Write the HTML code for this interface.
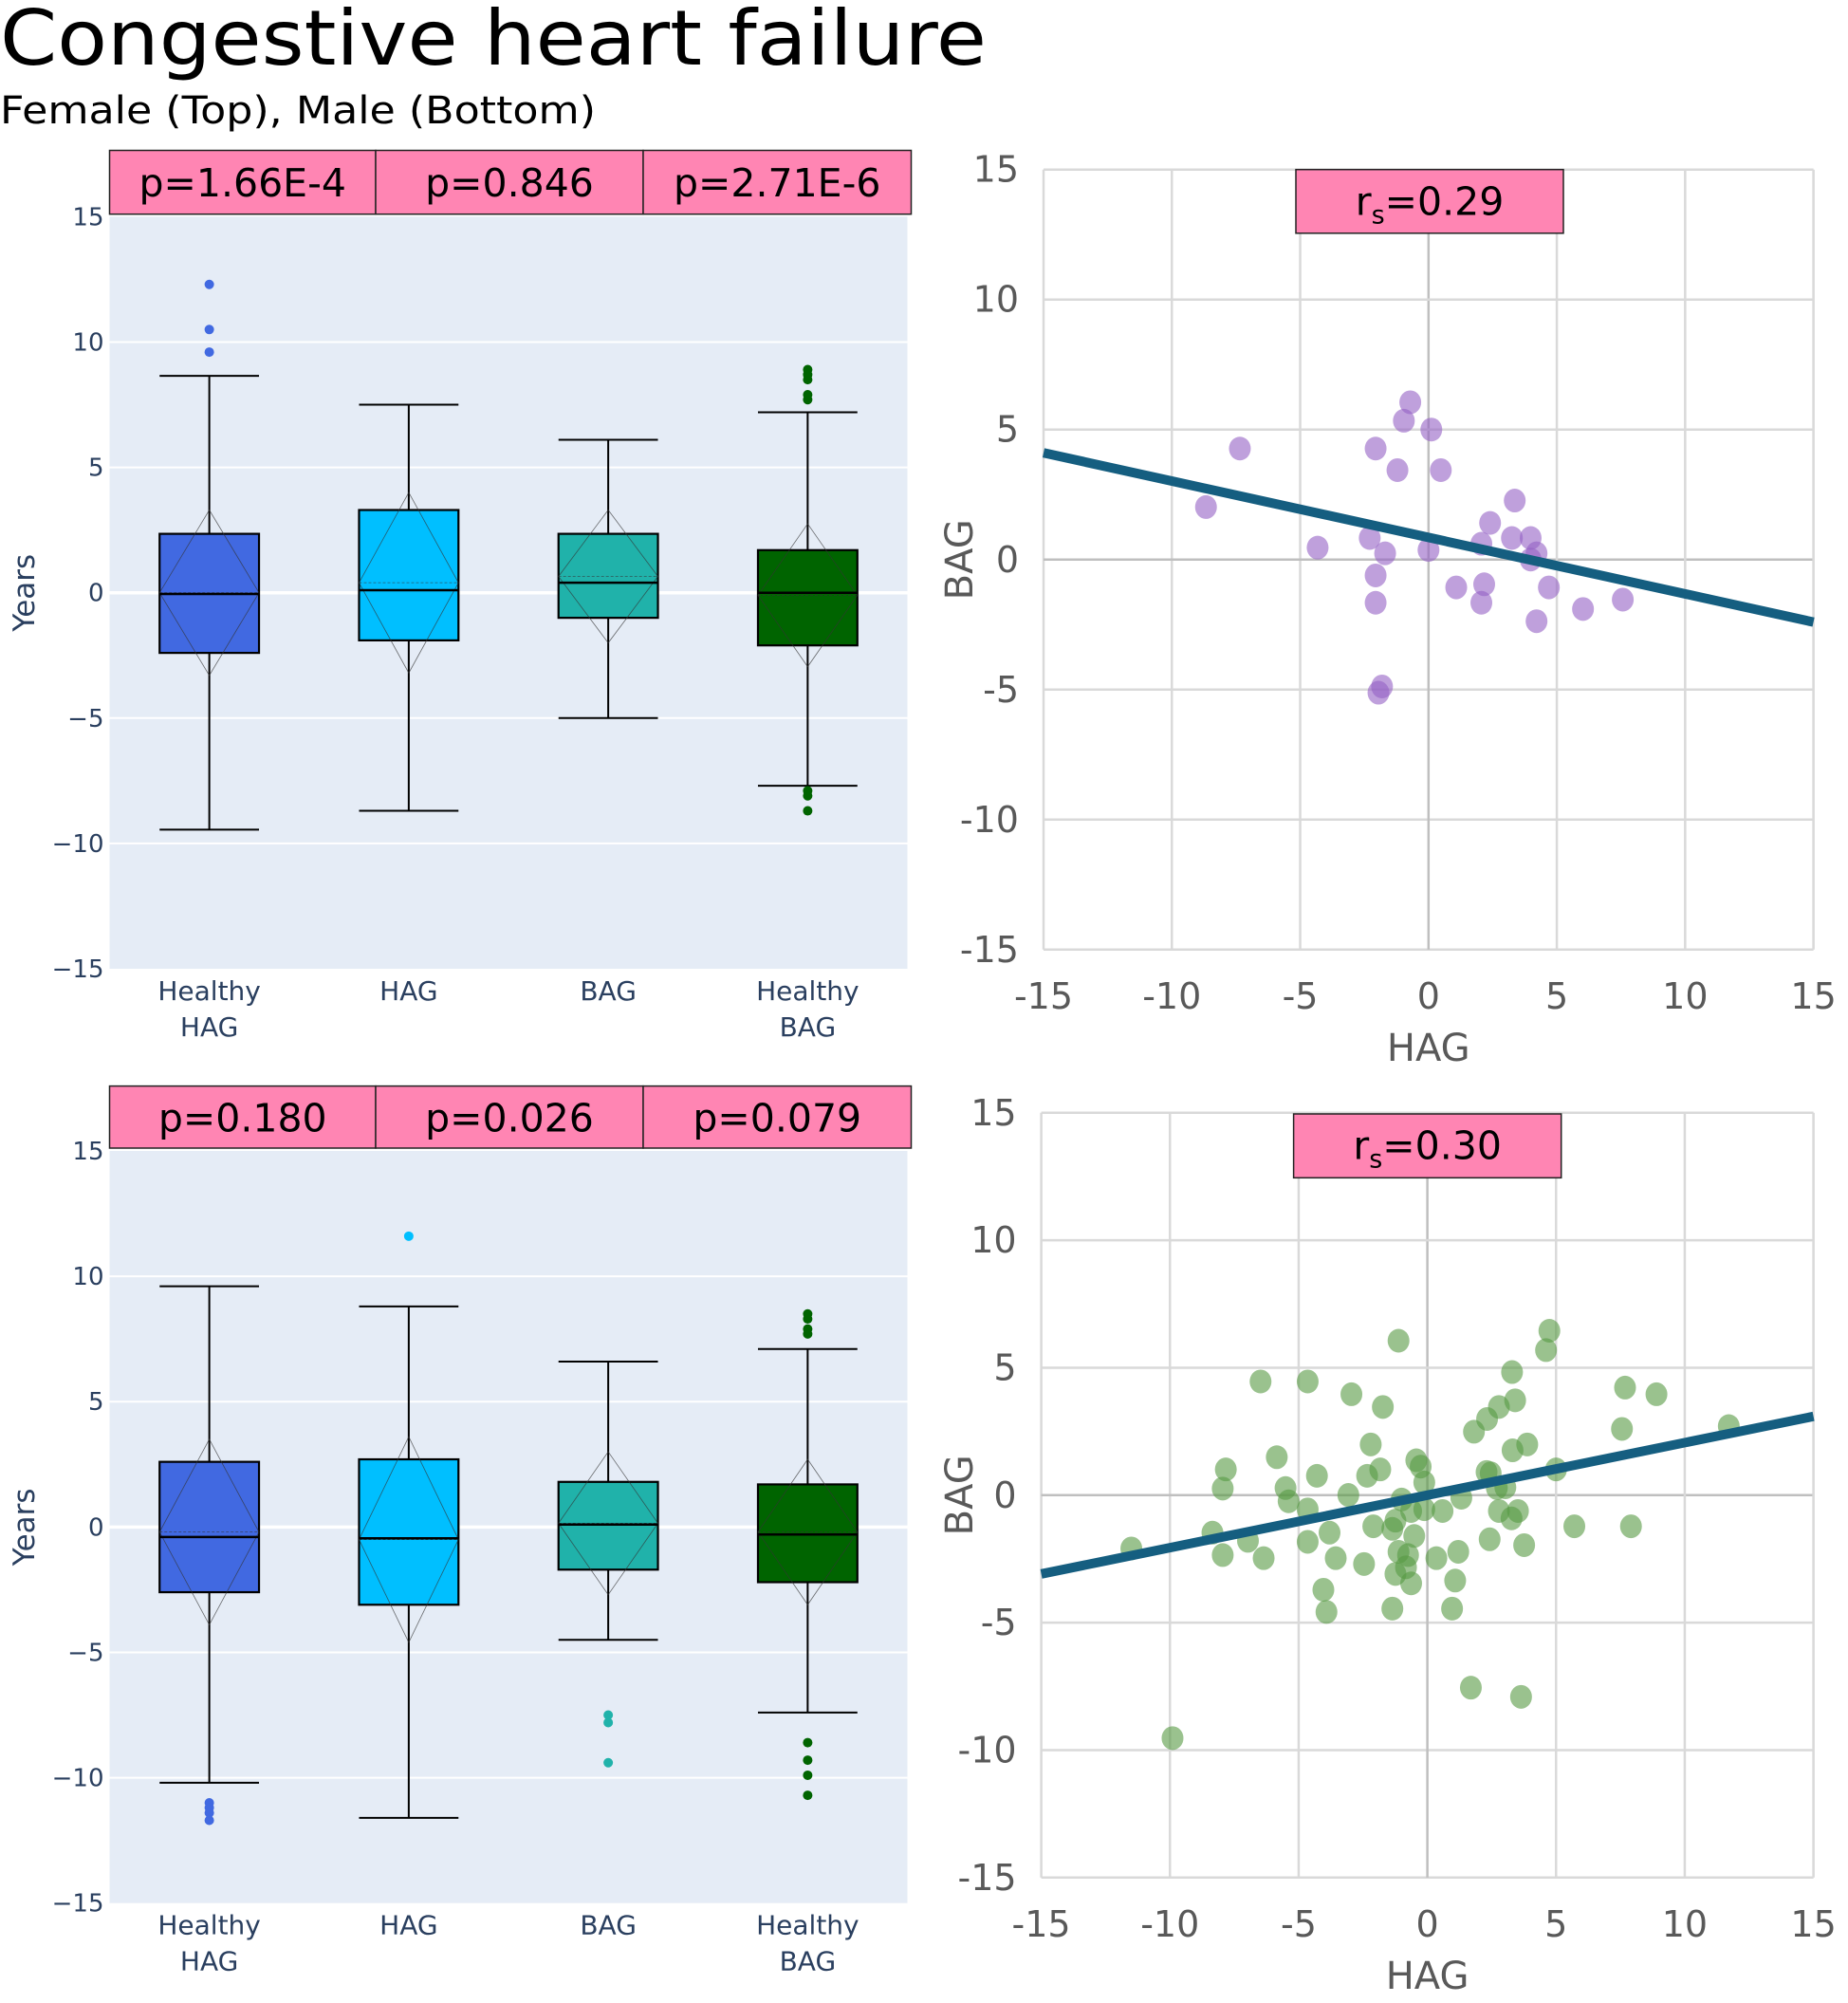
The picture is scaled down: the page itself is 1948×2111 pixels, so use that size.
<!DOCTYPE html>
<html><head><meta charset="utf-8"><style>
html,body{margin:0;padding:0;background:#fff;}
svg{display:block;font-family:"DejaVu Sans","Liberation Sans",sans-serif;}
</style></head><body>
<svg id="chart" width="1948" height="2111" viewBox="0 0 1948 2111" xmlns="http://www.w3.org/2000/svg">
<text x="0" y="68" font-size="80" fill="#000" textLength="1040" lengthAdjust="spacingAndGlyphs">Congestive heart failure</text>
<text x="0" y="130" font-size="40" fill="#000" textLength="628" lengthAdjust="spacingAndGlyphs">Female (Top), Male (Bottom)</text>
</svg>
<script>
const categories = ["Healthy HAG","HAG","BAG","Healthy BAG"];
const boxColors = ["#4169e1","#00bfff","#20b2aa","#006400"];
// female (top) box stats: [lowerWhisker, q1, median, q3, upperWhisker, mean, sd]
const femaleStats = [[-9.45,-2.4,-0.05,2.35,8.65,0,3.3],[-8.7,-1.9,0.1,3.3,7.5,0.4,3.6],[-5.0,-1.0,0.4,2.35,6.1,0.65,2.65],[-7.7,-2.1,0,1.7,7.2,-0.1,2.85]];
const femaleOutliers = [[9.6,10.5,12.3],[],[],[7.7,7.9,8.5,8.7,8.9,-7.9,-8.1,-8.7]];
const maleStats = [[-10.2,-2.6,-0.4,2.6,9.6,-0.2,3.7],[-11.6,-3.1,-0.45,2.7,8.8,-0.5,4.1],[-4.5,-1.7,0.1,1.8,6.6,0.15,2.85],[-7.4,-2.2,-0.3,1.7,7.1,-0.2,2.9]];
const maleOutliers = [[-11.0,-11.2,-11.4,-11.7],[11.6],[-7.5,-7.8,-9.4],[7.7,7.9,8.3,8.5,-8.6,-9.3,-9.9,-10.7]];
const femalePvals = ["p=1.66E-4","p=0.846","p=2.71E-6"];
const malePvals = ["p=0.180","p=0.026","p=0.079"];
const boxTicks = [15,10,5,0,-5,-10,-15];
const scatterTicks = [-15,-10,-5,0,5,10,15];
const femaleHAG = [-7.35,-8.67,-4.32,-2.06,-0.71,-0.96,0.11,-1.21,0.48,-2.29,-1.69,-2.06,-2.06,-1.81,-1.95,0,1.08,2.17,2.06,2.40,3.36,3.25,3.98,4.21,3.98,2.06,4.69,4.21,6.02,7.57];
const femaleBAG = [4.27,2.02,0.46,4.27,6.05,5.34,5.0,3.44,3.44,0.83,0.24,-0.61,-1.66,-4.88,-5.12,0.37,-1.07,-0.95,0.61,1.41,2.27,0.83,0.83,0.24,0,-1.66,-1.07,-2.37,-1.90,-1.54];
const femaleFit = [-0.217,0.85];
const femaleRs = "0.29";
const maleHAG = [-1.12,4.74,4.61,3.29,-6.48,-4.65,-2.95,-1.73,7.68,8.90,3.41,2.78,2.32,1.81,7.56,11.71,-2.20,-5.85,-7.83,-7.95,-4.29,-2.34,-1.83,-0.43,-0.26,-0.12,3.31,3.88,2.30,2.46,5.0,-5.51,-5.39,-3.07,-4.65,-1.0,1.32,2.70,3.03,-0.63,-0.12,0.59,2.78,3.52,3.27,-8.35,-11.5,-6.97,-7.95,-6.36,-4.65,-3.80,-3.56,-2.46,-2.10,-1.36,-1.24,-0.51,-1.12,-0.75,-0.83,-1.24,-0.63,0.35,1.20,2.42,3.76,5.71,7.91,1.08,-4.04,-3.92,-1.36,0.96,1.69,3.64,-9.90];
const maleBAG = [6.06,6.45,5.69,4.83,4.46,4.46,3.96,3.46,4.22,3.96,3.72,3.46,2.99,2.49,2.60,2.71,1.99,1.49,1.01,0.26,0.76,0.76,1.01,1.37,1.12,0.50,1.76,1.99,0.91,0.86,1.01,0.28,-0.24,0.01,-0.56,-0.17,-0.10,0.28,0.31,-0.62,-0.55,-0.62,-0.62,-0.62,-0.91,-1.47,-2.09,-1.79,-2.35,-2.47,-1.83,-1.47,-2.47,-2.70,-1.22,-1.32,-1.0,-1.60,-2.22,-2.35,-2.83,-3.09,-3.46,-2.47,-2.22,-1.73,-1.96,-1.22,-1.22,-3.35,-3.71,-4.58,-4.45,-4.45,-7.55,-7.91,-9.53];
const maleFit = [0.206,0];
const maleRs = "0.30";

const svg = document.getElementById('chart');
const NS = "http://www.w3.org/2000/svg";
function mk(tag, attrs, parent, txt){
  const e = document.createElementNS(NS, tag);
  for (const k in attrs) e.setAttribute(k, attrs[k]);
  if (txt !== undefined) e.textContent = txt;
  (parent||svg).appendChild(e);
  return e;
}

function boxPanel(prefix, top, bottom, stats, outliers, pvals, pTop, pBot){
  const L = 115.5, R = 956.5;
  const g = mk('g', {});
  
  
  const y = v => top + (15 - v) / 30 * (bottom - top);
  const step = (R - L) / categories.length;
  const xc = i => L + step * (i + 0.5);
  const bg = mk('rect', {x:L, y:top, width:R-L, height:bottom-top, fill:'#e5ecf6'}, g);
  
  
  boxTicks.forEach(t => {
    if (t !== 15 && t !== -15) {
      const gl = mk('line', {x1:L, x2:R, y1:y(t), y2:y(t), stroke:'#fff', 'stroke-width': t===0?3.5:2}, g);
      
      
    }
    const lb = mk('text', {x:L-6, y:y(t)+9, 'font-size':26, fill:'#2a3f5f', 'text-anchor':'end'}, g, t<0 ? '\u2212'+Math.abs(t) : String(t));
    
    
  });
  const yt = mk('text', {x:36, y:(top+bottom)/2, 'font-size':31, fill:'#2a3f5f', 'text-anchor':'middle', transform:'rotate(-90 36 '+((top+bottom)/2)+')'}, g, 'Years');
  
  
  const hw = 52.4;
  stats.forEach((s, i) => {
    const cx = xc(i);
    const bx = mk('g', {}, g);
    
    
    mk('line', {x1:cx, x2:cx, y1:y(s[4]), y2:y(s[3]), stroke:'#000', 'stroke-width':2}, bx);
    mk('line', {x1:cx, x2:cx, y1:y(s[1]), y2:y(s[0]), stroke:'#000', 'stroke-width':2}, bx);
    mk('line', {x1:cx-hw, x2:cx+hw, y1:y(s[4]), y2:y(s[4]), stroke:'#000', 'stroke-width':2}, bx);
    mk('line', {x1:cx-hw, x2:cx+hw, y1:y(s[0]), y2:y(s[0]), stroke:'#000', 'stroke-width':2}, bx);
    mk('rect', {x:cx-hw, y:y(s[3]), width:2*hw, height:y(s[1])-y(s[3]), fill:boxColors[i], stroke:'#000', 'stroke-width':2.2}, bx);
    mk('polygon', {points:[[cx, y(s[5]+s[6])],[cx+hw, y(s[5])],[cx, y(s[5]-s[6])],[cx-hw, y(s[5])]].map(p=>p.join(',')).join(' '), fill:'none', stroke:'#333', 'stroke-width':0.8, 'stroke-opacity':0.7}, bx);
    mk('line', {x1:cx-hw, x2:cx+hw, y1:y(s[5]), y2:y(s[5]), stroke:'#333', 'stroke-width':0.8, 'stroke-dasharray':'3,2', 'stroke-opacity':0.7}, bx);
    mk('line', {x1:cx-hw, x2:cx+hw, y1:y(s[2]), y2:y(s[2]), stroke:'#000', 'stroke-width':2.5}, bx);
    outliers[i].forEach(o => {
      const c = mk('circle', {cx:cx, cy:y(o), r:5, fill:boxColors[i]}, g);
      
      
    });
    const words = categories[i].split(' ');
    words.forEach((w, k) => {
      const t = mk('text', {x:cx, y:bottom+33+k*38, 'font-size':28, fill:'#2a3f5f', 'text-anchor':'middle'}, g, w);
      
      
    });
  });
  const px = [115.5, 396, 678, 960.5];
  pvals.forEach((p, i) => {
    const r = mk('rect', {x:px[i], y:pTop, width:px[i+1]-px[i], height:pBot-pTop, fill:'#ff85b3', stroke:'#222', 'stroke-width':1.5}, g);
    
    
    const t = mk('text', {x:(px[i]+px[i+1])/2, y:(pTop+pBot)/2+15, 'font-size':41, fill:'#000', 'text-anchor':'middle'}, g, p);
    
    
  });
}

function scatterPanel(prefix, L, R, top, bottom, xs, ys, fit, rs, color, rsBox){
  const g = mk('g', {});
  
  
  const x = v => L + (v + 15) / 30 * (R - L);
  const y = v => top + (15 - v) / 30 * (bottom - top);
  scatterTicks.forEach(t => {
    const gx = mk('line', {x1:x(t), x2:x(t), y1:top, y2:bottom, stroke: t===0?'#bfbfbf':'#d9d9d9', 'stroke-width':2.5}, g);
    
    
    const gy = mk('line', {x1:L, x2:R, y1:y(t), y2:y(t), stroke: t===0?'#bfbfbf':'#d9d9d9', 'stroke-width':2.5}, g);
    
    
    const lx = mk('text', {x:x(t), y:bottom+62, 'font-size':38, fill:'#595959', 'text-anchor':'middle'}, g, String(t));
    
    
    const ly = mk('text', {x:L-26, y:y(t)+13, 'font-size':38, fill:'#595959', 'text-anchor':'end'}, g, String(t));
    
    
  });
  const xt = mk('text', {x:x(0), y:bottom+117, 'font-size':40, fill:'#595959', 'text-anchor':'middle'}, g, 'HAG');
  
  
  const yc = y(0);
  const ytt = mk('text', {x:1025, y:yc, 'font-size':40, fill:'#595959', 'text-anchor':'middle', transform:'rotate(-90 1025 '+yc+')'}, g, 'BAG');
  
  
  xs.forEach((v, i) => {
    const c = mk('ellipse', {cx:x(v), cy:y(ys[i]), rx:11.5, ry:12.5, fill:color, 'fill-opacity':0.6}, g);
    
    
  });
  const ln = mk('line', {x1:x(-15), y1:y(fit[0]*-15+fit[1]), x2:x(15), y2:y(fit[0]*15+fit[1]), stroke:'#155e80', 'stroke-width':10}, g);
  
  
  const rb = mk('rect', {x:rsBox[0], y:rsBox[1], width:rsBox[2]-rsBox[0], height:rsBox[3]-rsBox[1], fill:'#ff85b3', stroke:'#222', 'stroke-width':1.5}, g);
  
  
  const t = mk('text', {x:(rsBox[0]+rsBox[2])/2, y:(rsBox[1]+rsBox[3])/2+14, 'font-size':41, fill:'#000', 'text-anchor':'middle'}, g);
  
  
  mk('tspan', {}, t, 'r');
  mk('tspan', {'font-size':27, dy:9}, t, 's');
  mk('tspan', {dy:-9}, t, '=' + rs);
}

boxPanel('female', 228.4, 1021, femaleStats, femaleOutliers, femalePvals, 158.5, 225.7);
boxPanel('male', 1213, 2005.7, maleStats, maleOutliers, malePvals, 1144.6, 1210);
scatterPanel('female', 1100, 1911.6, 178.7, 1000.8, femaleHAG, femaleBAG, femaleFit, femaleRs, '#9560c4', [1366,178.7,1648,245.8]);
scatterPanel('male', 1097.6, 1911.6, 1172.8, 1978.8, maleHAG, maleBAG, maleFit, maleRs, '#569a43', [1363.6,1174,1645.7,1241.3]);
</script>
</body></html>
